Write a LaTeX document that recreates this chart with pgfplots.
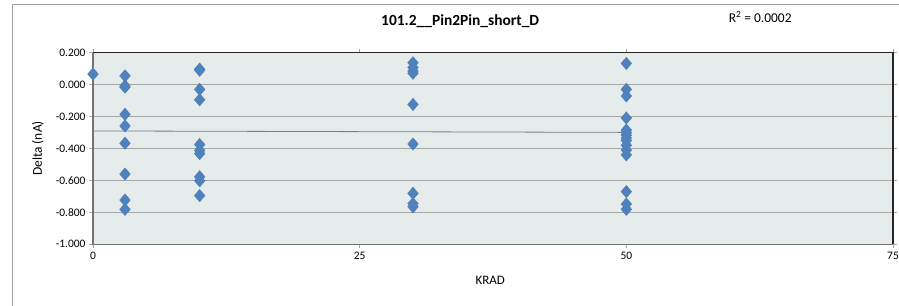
\documentclass[border=0pt]{standalone}
\usepackage{pgfplots}
\pgfplotsset{compat=1.18}
\usepackage{fontspec}
\setmainfont{Carlito}
\definecolor{plotbg}{HTML}{E6ECEC}
\definecolor{markblue}{HTML}{4F81BD}
\definecolor{gridgray}{HTML}{A6A6A6}
\definecolor{framegray}{HTML}{A0A0A0}
\definecolor{trendgray}{HTML}{6E7F8A}
\begin{document}
\begin{tikzpicture}
\path[use as bounding box] (0,0) rectangle (899bp,306bp);
\draw[framegray, line width=1bp] (12bp,0) -- (12bp,301bp) -- (899bp,301bp);
\begin{axis}[
  at={(93bp,61.7bp)}, anchor=south west,
  scale only axis, width=800bp, height=191.6bp,
  xmin=0, xmax=75, ymin=-1, ymax=0.2,
  xtick={0,25,50,75},
  ytick={-1,-0.8,-0.6,-0.4,-0.2,0,0.2},
  yticklabel style={/pgf/number format/.cd, fixed, fixed zerofill, precision=3, assume math mode=true},
  xticklabel style={/pgf/number format/assume math mode=true},
  ticklabel style={font=\fontsize{11.5}{13}\selectfont},
  tick align=outside, major tick length=4bp,
  tick style={gridgray, line width=0.8bp},
  ymajorgrids, grid style={gridgray, line width=1bp},
  axis line style={draw=none},
  axis background/.style={fill=plotbg},
  xlabel={KRAD},
  ylabel={Delta (nA)},
  xlabel style={at={(axis description cs:0.4965,-0.188)}, anchor=center, font=\fontsize{13}{15}\selectfont},
  ylabel style={at={(axis description cs:-0.06875,0.5)}, anchor=center, font=\fontsize{13.5}{15}\selectfont},
  title={\textbf{101.2\_\_Pin2Pin\_short\_D}},
  title style={at={(axis description cs:0.459,1.134)}, anchor=center, font=\fontsize{15.5}{18}\selectfont},
  clip=false,
]
\addplot[only marks, mark=diamond*, mark size=6.2bp, mark options={fill=markblue, draw=markblue, xscale=1.15}]
coordinates {
 (0,0.066)
 (3,0.055) (3,-0.008) (3,-0.016) (3,-0.186) (3,-0.259) (3,-0.367) (3,-0.560) (3,-0.723) (3,-0.781)
 (10,0.097) (10,0.090) (10,-0.030) (10,-0.095) (10,-0.375) (10,-0.412) (10,-0.432) (10,-0.577) (10,-0.602) (10,-0.695)
 (30,0.137) (30,0.108) (30,0.085) (30,0.071) (30,-0.124) (30,-0.372) (30,-0.681) (30,-0.745) (30,-0.765)
 (50,0.133) (50,-0.030) (50,-0.071) (50,-0.209) (50,-0.284) (50,-0.300) (50,-0.316) (50,-0.335) (50,-0.350) (50,-0.380) (50,-0.410) (50,-0.440) (50,-0.670) (50,-0.748) (50,-0.781)
};
\addplot[no marks, color=trendgray, line width=0.8bp] coordinates {(0,-0.290) (50,-0.299)};
\draw[gridgray!70!black, line width=1.3bp] (rel axis cs:0,1) -- (rel axis cs:0,0) -- (rel axis cs:1,0);
\draw[black!85, line width=1.3bp] (rel axis cs:0,1) -- (rel axis cs:1,1) -- (rel axis cs:1,0);
\node[font=\fontsize{13.5}{15}\selectfont, anchor=center] at (axis description cs:0.834,1.186) {R\textsuperscript{2} = 0.0002};
\end{axis}
\end{tikzpicture}
\end{document}
